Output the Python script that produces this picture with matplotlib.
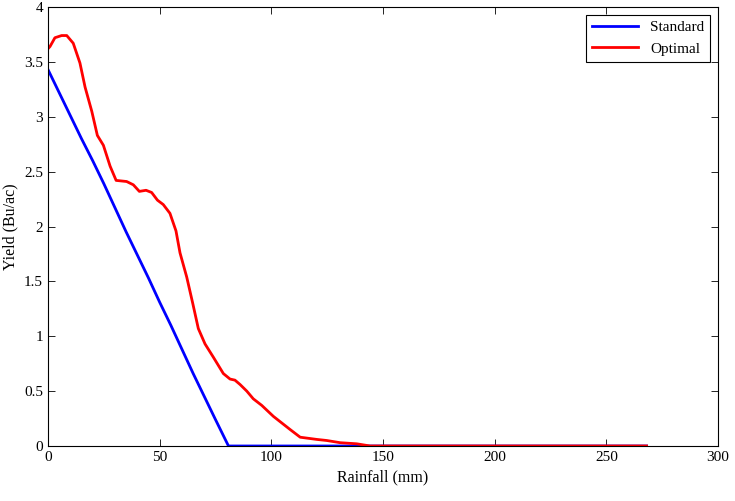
import matplotlib
matplotlib.use('Agg')
import matplotlib.pyplot as plt
import numpy as np

plt.rcParams['font.family'] = ['Liberation Serif', 'DejaVu Serif']

# Standard yield curve
std_rain = [0, 5, 10, 15, 20, 25, 30, 35, 40, 45, 50, 55, 60, 65, 70, 75, 80.8, 100, 150, 200, 268]
std_yield = [3.43, 3.22, 3.01, 2.80, 2.60, 2.39, 2.17, 1.95, 1.74, 1.53, 1.31, 1.10, 0.88,
             0.66, 0.45, 0.24, 0, 0, 0, 0, 0]

# Optimal yield curve
opt_rain = [0, 0.9, 3.1, 6.1, 8.4, 11.3, 14.3, 16.6, 19.6, 22.1, 24.8, 27.8, 30.5, 35.2,
            38.2, 40.9, 43.9, 46.4, 49, 51.6, 54.6, 57.3, 59.1, 62.1, 64.8, 67.3, 70.3,
            74, 78.5, 81.5, 83.7, 86, 89, 91.9, 95.7, 100.9, 108.4, 112.9, 120.3, 124.8,
            130.8, 138.2, 144.2, 150, 200, 268]
opt_yield = [3.62, 3.64, 3.72, 3.74, 3.74, 3.67, 3.49, 3.27, 3.05, 2.83, 2.74, 2.55, 2.42,
             2.41, 2.38, 2.32, 2.33, 2.31, 2.24, 2.20, 2.12, 1.96, 1.76, 1.54, 1.30, 1.07,
             0.93, 0.81, 0.66, 0.61, 0.60, 0.56, 0.50, 0.43, 0.37, 0.27, 0.15, 0.08, 0.06,
             0.05, 0.03, 0.02, 0.0, 0, 0, 0]

x_ticks = [0, 50, 100, 150, 200, 250, 300]
y_ticks = [0, 0.5, 1, 1.5, 2, 2.5, 3, 3.5, 4]

fig = plt.figure(figsize=(7.35, 5.01), dpi=100)
ax = fig.add_axes([0.0653, 0.1098, 0.9117, 0.8762])

ax.plot(std_rain, std_yield, color='#0000ff', linewidth=2, label='Standard')
ax.plot(opt_rain, opt_yield, color='#ff0000', linewidth=2, label='Optimal')

ax.set_xlim(0, 300)
ax.set_ylim(0, 4)
ax.set_xticks(x_ticks)
ax.set_yticks(y_ticks)
ax.set_xticklabels([str(t) for t in x_ticks])
ax.set_yticklabels(['0', '0.5', '1', '1.5', '2', '2.5', '3', '3.5', '4'])
ax.tick_params(direction='in', top=True, right=True, labelsize=11, length=5, width=0.6)
for s in ax.spines.values():
    s.set_linewidth(0.8)

ax.set_xlabel('Rainfall (mm)', fontsize=11.5)
ax.set_ylabel('Yield (Bu/ac)', fontsize=11.5)

leg = ax.legend(loc='upper right', fontsize=11, fancybox=False, edgecolor='black',
                framealpha=1, borderaxespad=0.5, handlelength=3)
leg.get_frame().set_linewidth(0.8)

fig.savefig('out.png', dpi=100)
